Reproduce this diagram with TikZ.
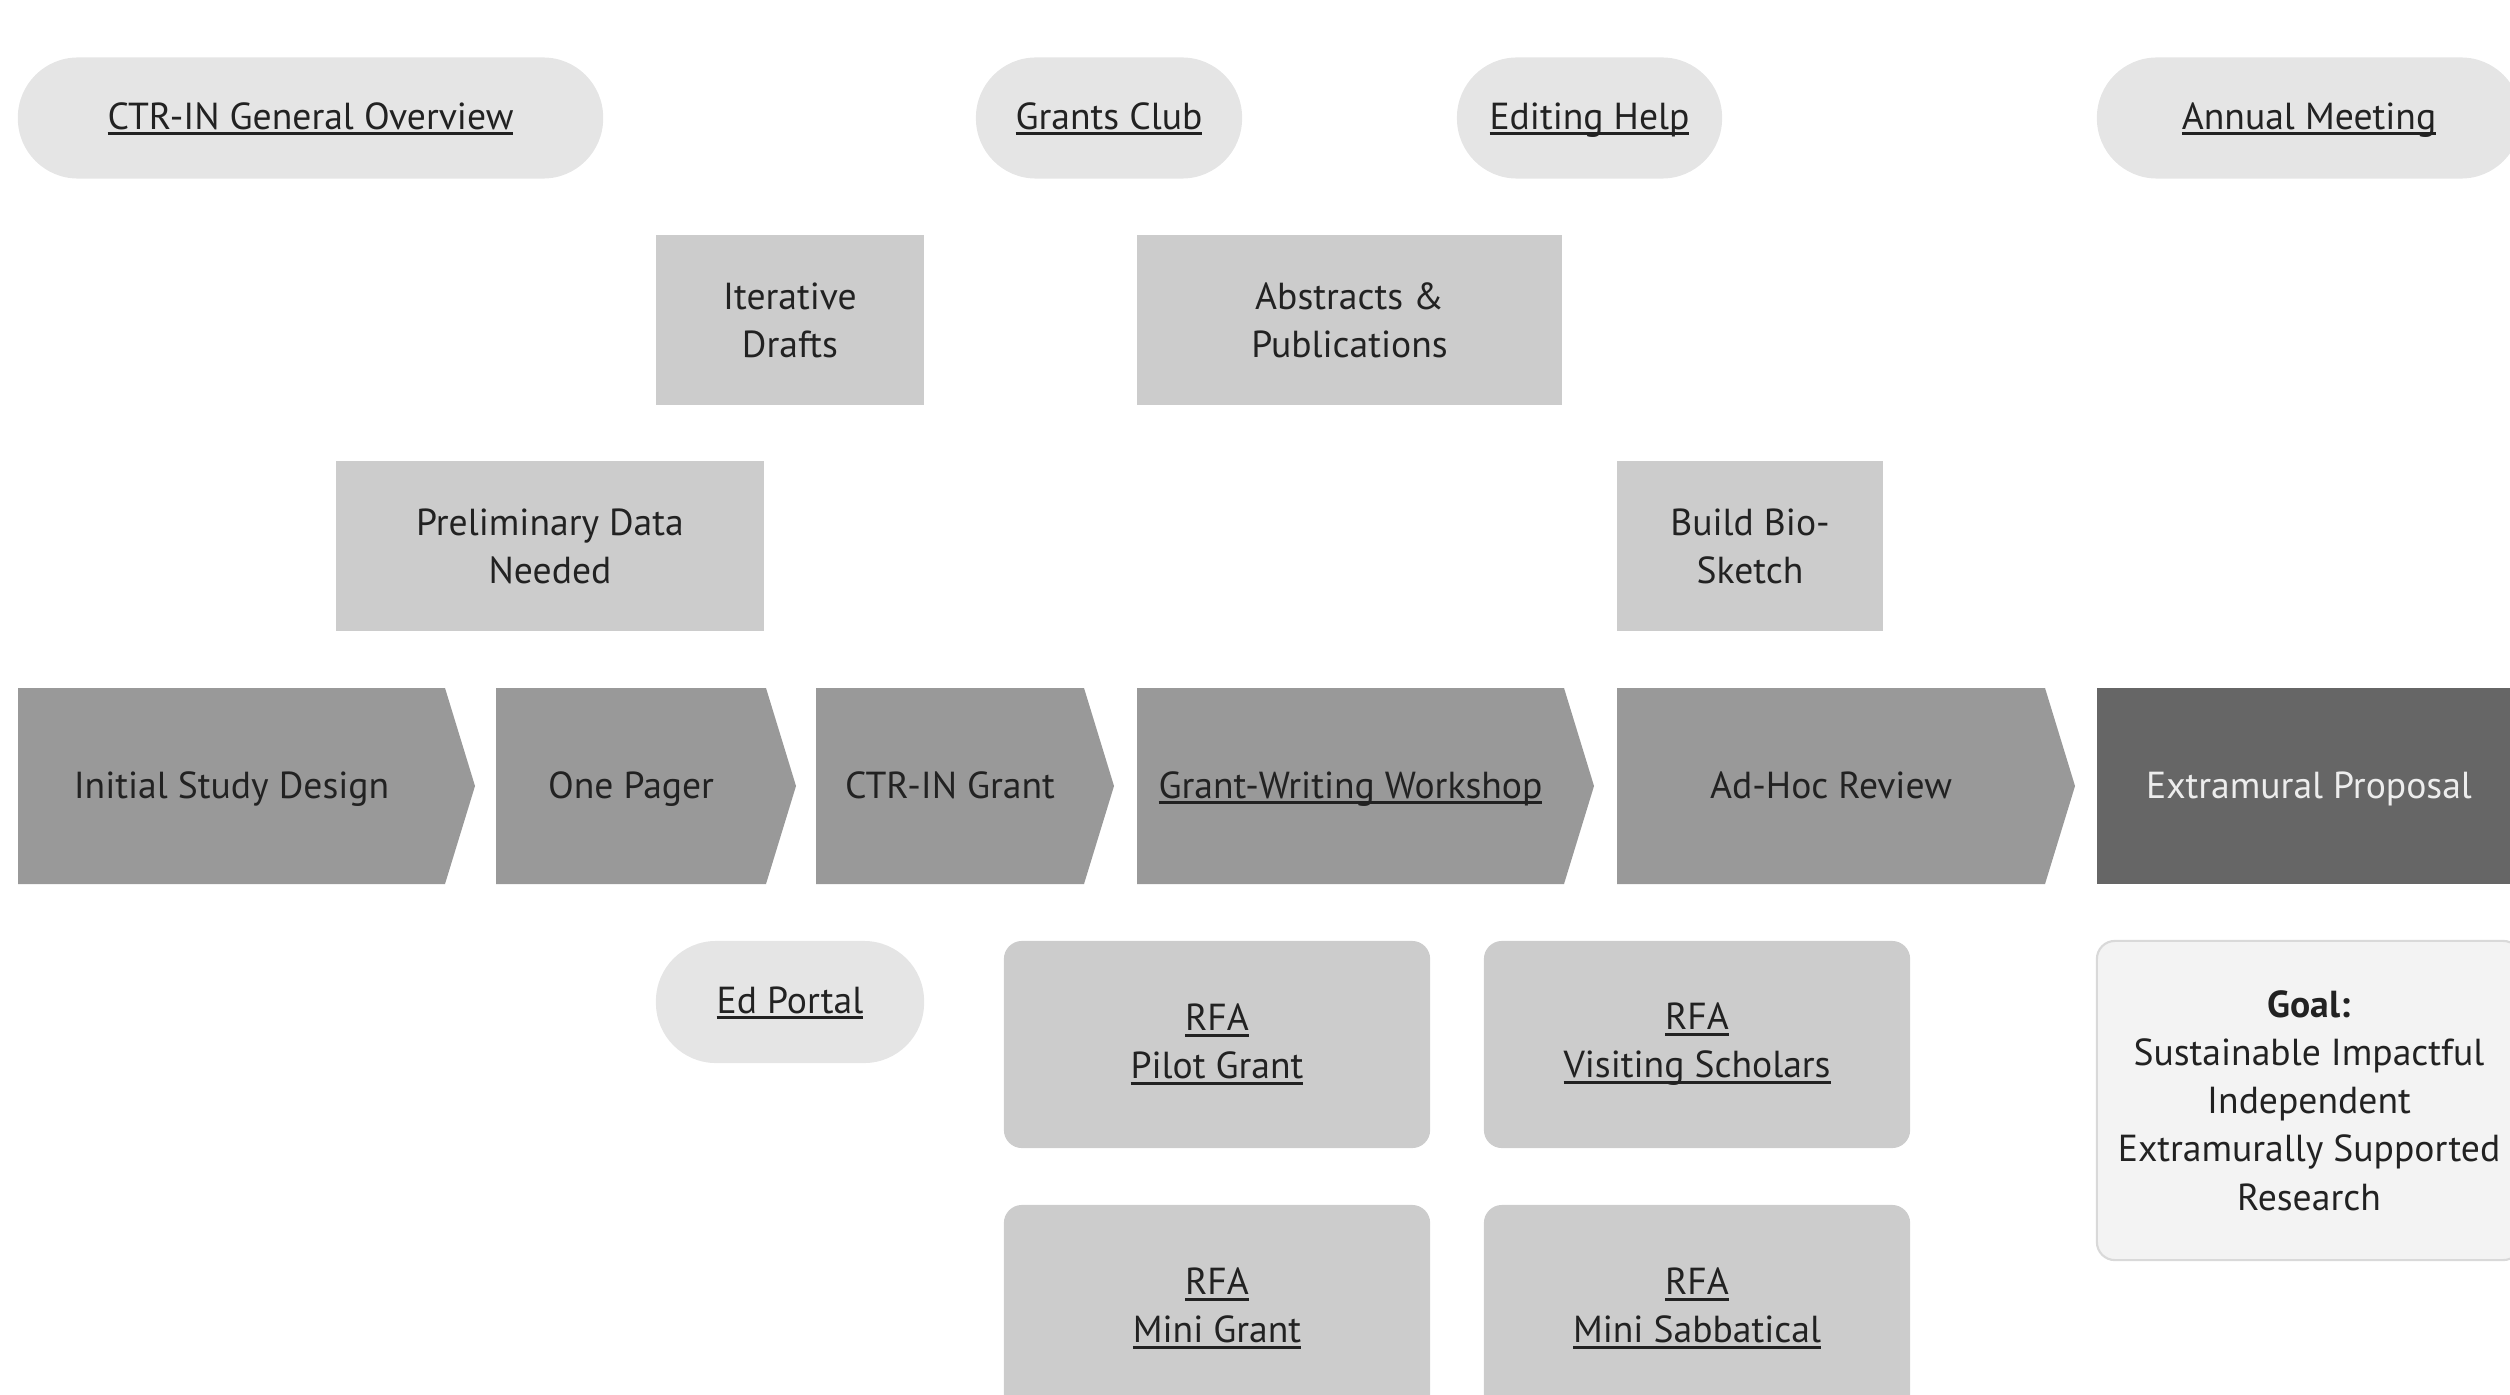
\documentclass[tikz,border=0pt]{standalone}
\usepackage{fontspec}
\setmainfont{PT Sans}
\usetikzlibrary{positioning}
\definecolor{pillc}{HTML}{E5E5E5}
\definecolor{rectc}{HTML}{CCCCCC}
\definecolor{chevc}{HTML}{999999}
\definecolor{darkc}{HTML}{666666}
\definecolor{goalc}{HTML}{F3F3F3}
\definecolor{goalb}{HTML}{D9D9D9}
\definecolor{txtc}{HTML}{222222}
\newcommand\lnk[1]{\setbox0\hbox{#1}\rlap{\rule[-1.7pt]{\wd0}{0.8pt}}\box0}
\newcommand\chevfill[3]{\fill[#3] (#1,688) -- (#2-30,688) -- (#2,786) -- (#2-30,884) -- (#1,884) -- cycle;}
\tikzset{
  base/.style={inner sep=0pt, align=center, text=txtc, font=\fontsize{10.7pt}{13.7pt}\selectfont},
  oneline/.style={text height=7pt, text depth=0pt},
  pill/.style={base, text height=6.3pt, text depth=0pt, fill=pillc, rounded corners=0.6cm, minimum height=1.21cm},
  rectbox/.style={base, fill=rectc, minimum height=1.70cm},
  rfabox/.style={base, fill=rectc, rounded corners=0.18cm, minimum width=4.26cm, minimum height=2.07cm},
  chevtext/.style={base, oneline}
}
\begin{document}
\begin{tikzpicture}[x=0.01cm,y=-0.01cm]
\useasboundingbox (0,0) rectangle (2510,1394);
\clip (0,0) rectangle (2510,1394);
% top pills
\node[pill, minimum width=5.85cm] (ov) at (310.5,118) {\lnk{CTR-IN General Overview}};
\node[pill, minimum width=2.66cm] (gc) at (1109,118) {\lnk{Grants Club}};
\node[pill, minimum width=2.65cm] (eh) at (1589.5,118) {\lnk{Editing Help}};
\node[pill, minimum width=4.24cm] (am) at (2309,118) {\lnk{Annual Meeting}};
% second row
\node[rectbox, minimum width=2.68cm] (id) at (790,320) {Iterative\\Drafts};
\node[rectbox, minimum width=4.25cm] (ap) at (1349.5,320) {Abstracts \&\\Publications};
% third row
\node[rectbox, minimum width=4.28cm] (pd) at (550,546) {Preliminary Data\\Needed};
\node[rectbox, minimum width=2.66cm] (bb) at (1750,546) {Build Bio-\\Sketch};
% chevrons
\chevfill{18}{475}{chevc}
\node[chevtext] (isd) at (231.5,786) {Initial Study Design};
\chevfill{496}{796}{chevc}
\node[chevtext] (op) at (631,786) {One Pager};
\chevfill{816}{1114}{chevc}
\node[chevtext] (cg) at (950,786) {CTR-IN Grant};
\chevfill{1137}{1594}{chevc}
\node[chevtext] (gw) at (1350.5,786) {\lnk{Grant-Writing Workshop}};
\chevfill{1617}{2075}{chevc}
\node[chevtext] (ah) at (1831,786) {Ad-Hoc Review};
\node[base, oneline, fill=darkc, text=white!93!black, minimum width=4.24cm, minimum height=1.96cm] (ep) at (2309,786) {Extramural Proposal};
% bottom
\node[pill, minimum width=2.68cm, minimum height=1.22cm] (edp) at (790,1002) {\lnk{Ed Portal}};
\node[rfabox] (rpg) at (1217,1044.5) {\lnk{RFA}\\\lnk{Pilot Grant}};
\node[rfabox] (rvs) at (1697,1044.5) {\lnk{RFA}\\\lnk{Visiting Scholars}};
\node[rfabox] (rmg) at (1217,1308.5) {\lnk{RFA}\\\lnk{Mini Grant}};
\node[rfabox] (rms) at (1697,1308.5) {\lnk{RFA}\\\lnk{Mini Sabbatical}};
\node[base, fill=goalc, draw=goalb, line width=0.6pt, rounded corners=0.18cm, minimum width=4.24cm, minimum height=3.19cm] (goal) at (2309,1100.5)
  {\textbf{Goal:}\\Sustainable Impactful\\Independent\\Extramurally Supported\\Research};
\end{tikzpicture}
\end{document}
